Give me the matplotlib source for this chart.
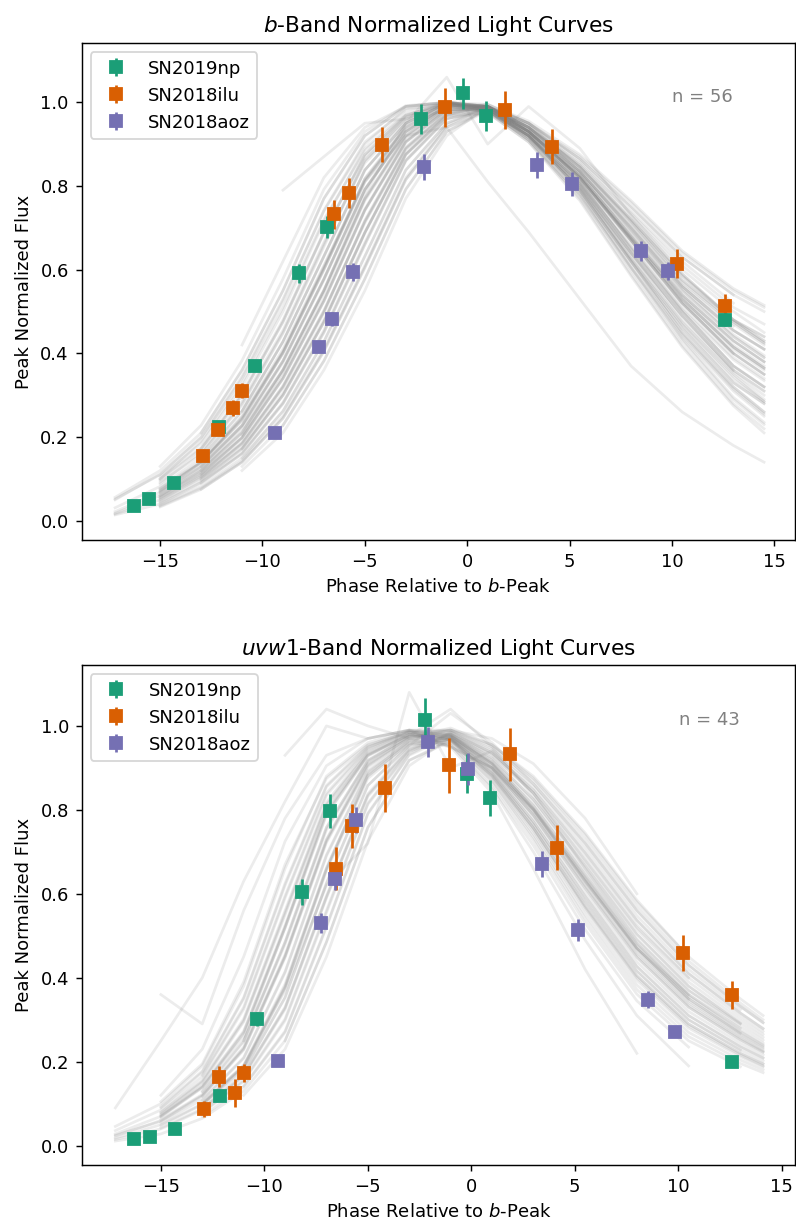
import numpy as np
import matplotlib
matplotlib.use('Agg')
import matplotlib.pyplot as plt

N = np.nan

# phases (days from b-band peak) of the three SNe
np_phase = [-16.3, -15.55, -14.3, -12.13, -10.36, -8.2, -6.83, -2.25, -0.22, 0.9, 12.61]
ilu_phase = [-12.93, -12.17, -11.42, -10.98, -6.53, -5.78, -4.18, -1.1, 1.86, 4.12, 10.23, 12.58]
aoz_b_phase = [-9.37, -7.25, -6.6, -5.59, -2.11, 3.41, 5.14, 8.51, 9.83]
aoz_u_phase = [-9.36, -7.24, -6.58, -5.58, -2.1, -0.17, 3.43, 5.15, 8.52, 9.85]

# b band
np_b_flux = [0.036, 0.051, 0.091, 0.225, 0.371, 0.591, 0.702, 0.960, 1.022, 0.968, 0.480]
np_b_err = [0.008, 0.008, 0.01, 0.012, 0.014, 0.022, 0.026, 0.035, 0.037, 0.036, 0.015]
ilu_b_flux = [0.154, 0.217, 0.269, 0.311, 0.732, 0.783, 0.899, 0.988, 0.981, 0.894, 0.614, 0.514]
ilu_b_err = [0.008, 0.01, 0.019, 0.018, 0.035, 0.036, 0.041, 0.047, 0.046, 0.041, 0.035, 0.028]
aoz_b_flux = [0.209, 0.415, 0.482, 0.595, 0.845, 0.850, 0.805, 0.645, 0.597]
aoz_b_err = [0.01, 0.012, 0.017, 0.021, 0.031, 0.031, 0.029, 0.024, 0.021]

# uvw1 band
np_u_flux = [0.016, 0.020, 0.040, 0.119, 0.302, 0.605, 0.797, 1.014, 0.886, 0.829, 0.200]
np_u_err = [0.006, 0.006, 0.008, 0.01, 0.017, 0.031, 0.041, 0.052, 0.046, 0.043, 0.008]
ilu_u_flux = [0.088, 0.164, 0.125, 0.173, 0.660, 0.762, 0.853, 0.906, 0.932, 0.710, 0.459, 0.359]
ilu_u_err = [0.019, 0.025, 0.034, 0.021, 0.052, 0.052, 0.057, 0.066, 0.063, 0.054, 0.044, 0.034]
aoz_u_flux = [0.202, 0.530, 0.635, 0.776, 0.962, 0.897, 0.670, 0.514, 0.348, 0.272]
aoz_u_err = [0.008, 0.024, 0.025, 0.030, 0.036, 0.038, 0.031, 0.026, 0.021, 0.010]

# comparison sample, sampled on a common phase grid
b_grid = [-17.2, -15, -13, -11, -9, -7, -5, -3, -1, 1, 3, 5.5, 8, 10.5, 13, 14.5]
b_curves = [
    [N, N, N, 0.42, 0.62, 0.82, 0.94, 0.99, 1.0, 0.99, 0.95, 0.87, 0.76, 0.64, 0.55, 0.51],
    [N, 0.13, 0.228, 0.383, 0.578, 0.792, 0.93, 0.992, 1.0, 0.99, 0.94, 0.835, 0.70, 0.56, 0.455, 0.41],
    [0.056, 0.12, 0.21, 0.36, 0.55, 0.77, 0.92, 0.99, 1.0, 0.985, 0.93, 0.82, 0.67, 0.52, 0.40, 0.35],
    [N, N, 0.21, 0.36, 0.55, 0.77, 0.92, 0.99, 1.0, 0.995, 0.95, 0.865, 0.75, 0.63, 0.54, N],
    [0.05, 0.112, 0.198, 0.34, 0.525, 0.742, 0.905, 0.982, 1.0, 0.985, 0.93, 0.81, 0.66, 0.51, 0.39, 0.34],
    [N, 0.105, 0.185, 0.32, 0.50, 0.715, 0.89, 0.975, 1.0, 0.98, 0.92, 0.79, 0.62, 0.46, 0.33, 0.28],
    [N, 0.10, 0.19, 0.33, 0.51, 0.72, 0.885, 0.97, 0.995, 0.99, 0.94, 0.84, 0.71, 0.57, 0.47, 0.42],
    [0.052, 0.11, 0.20, 0.345, 0.53, 0.74, 0.90, 0.985, 0.995, 0.98, 0.91, 0.77, 0.59, 0.42, 0.28, 0.22],
    [N, N, 0.172, 0.30, 0.475, 0.688, 0.875, 0.968, 1.0, 0.99, 0.93, 0.825, 0.68, 0.54, 0.43, 0.38],
    [N, N, 0.16, 0.28, 0.45, 0.66, 0.86, 0.96, 1.0, 0.985, 0.92, 0.81, 0.65, 0.50, 0.37, 0.32],
    [N, 0.088, 0.165, 0.285, 0.455, 0.665, 0.855, 0.955, 0.995, 0.99, 0.94, 0.845, 0.72, 0.585, 0.48, 0.44],
    [0.031, 0.082, 0.15, 0.262, 0.428, 0.632, 0.838, 0.95, 0.998, 0.98, 0.92, 0.80, 0.63, 0.475, 0.35, 0.29],
    [N, 0.097, 0.172, 0.30, 0.475, 0.688, 0.875, 0.968, 1.0, 0.99, 0.95, 0.86, 0.74, 0.62, 0.52, N],
    [N, N, 0.15, 0.262, 0.428, 0.632, 0.838, 0.95, 0.998, 0.99, 0.93, 0.82, 0.675, 0.53, 0.415, 0.365],
    [N, 0.092, 0.158, 0.276, 0.448, 0.655, 0.862, 0.962, 1.0, 0.99, 0.93, 0.83, 0.69, 0.55, 0.44, 0.39],
    [N, 0.10, 0.175, 0.305, 0.48, 0.69, 0.87, 0.965, 0.995, 0.98, 0.91, 0.78, 0.60, 0.43, 0.29, 0.23],
    [N, N, N, 0.262, 0.428, 0.632, 0.838, 0.95, 0.998, 0.98, 0.92, 0.79, 0.62, 0.45, 0.32, 0.26],
    [N, N, 0.14, 0.245, 0.405, 0.605, 0.815, 0.94, 0.995, 0.985, 0.93, 0.82, 0.67, 0.52, 0.40, 0.35],
    [N, 0.078, 0.142, 0.25, 0.41, 0.61, 0.812, 0.935, 0.99, 0.99, 0.94, 0.835, 0.70, 0.56, 0.455, 0.41],
    [0.022, 0.068, 0.13, 0.228, 0.382, 0.578, 0.792, 0.93, 0.992, 0.985, 0.92, 0.80, 0.64, 0.49, 0.36, 0.31],
    [N, 0.072, 0.138, 0.24, 0.40, 0.60, 0.818, 0.945, 1.0, 0.99, 0.94, 0.855, 0.735, 0.61, 0.51, 0.47],
    [N, N, 0.13, 0.228, 0.382, 0.578, 0.792, 0.93, 0.992, 0.975, 0.905, 0.765, 0.585, 0.415, 0.275, 0.21],
    [N, 0.076, 0.14, 0.248, 0.402, 0.602, 0.81, 0.942, 0.998, 0.99, 0.935, 0.825, 0.68, 0.535, 0.42, 0.37],
    [N, 0.068, 0.13, 0.228, 0.382, 0.578, 0.792, 0.93, 0.992, 0.99, 0.935, 0.835, 0.695, 0.555, 0.445, 0.395],
    [N, 0.074, 0.139, 0.243, 0.403, 0.607, 0.817, 0.938, 0.994, 0.985, 0.92, 0.80, 0.64, 0.49, 0.36, N],
    [N, 0.07, 0.14, 0.24, 0.40, 0.60, 0.81, 0.92, 0.94, 0.81, 0.69, 0.53, 0.37, 0.26, 0.18, 0.14],
    [0.018, 0.06, 0.12, 0.21, 0.36, 0.55, 0.77, 0.92, 0.99, 0.99, 0.93, 0.825, 0.68, 0.54, 0.43, 0.38],
    [N, 0.062, 0.122, 0.212, 0.362, 0.552, 0.768, 0.918, 0.988, 0.99, 0.945, 0.845, 0.715, 0.575, 0.475, 0.425],
    [N, N, 0.112, 0.198, 0.34, 0.525, 0.742, 0.905, 0.982, 0.985, 0.925, 0.805, 0.64, 0.48, 0.355, 0.30],
    [N, N, 0.12, 0.21, 0.36, 0.55, 0.77, 0.92, 0.99, 0.995, 0.955, 0.875, 0.765, 0.645, 0.555, 0.515],
    [N, 0.055, 0.112, 0.198, 0.34, 0.525, 0.742, 0.905, 0.982, 0.985, 0.915, 0.785, 0.605, 0.435, 0.295, 0.235],
    [N, N, N, 0.205, 0.355, 0.545, 0.765, 0.915, 0.985, 0.98, 0.925, 0.805, 0.655, 0.505, 0.385, 0.335],
    [N, 0.058, 0.115, 0.20, 0.345, 0.53, 0.745, 0.908, 0.985, 0.99, 0.935, 0.835, 0.705, 0.565, 0.465, N],
    [N, 0.06, 0.12, 0.22, 0.36, 0.55, 0.78, 0.95, 1.06, 0.90, 0.99, 0.89, 0.73, 0.59, 0.48, 0.43],
    [N, 0.066, 0.128, 0.225, 0.378, 0.575, 0.79, 0.928, 0.99, 0.978, 0.915, 0.795, 0.628, 0.468, 0.338, 0.285],
    [0.016, 0.05, 0.105, 0.185, 0.32, 0.50, 0.715, 0.89, 0.975, 0.99, 0.93, 0.82, 0.675, 0.53, 0.415, 0.365],
    [N, 0.052, 0.107, 0.188, 0.323, 0.503, 0.712, 0.887, 0.972, 0.99, 0.94, 0.845, 0.72, 0.585, 0.48, 0.44],
    [N, N, 0.097, 0.172, 0.30, 0.475, 0.688, 0.875, 0.968, 0.975, 0.915, 0.795, 0.625, 0.47, 0.345, 0.285],
    [N, 0.048, 0.103, 0.183, 0.318, 0.497, 0.718, 0.893, 0.978, 0.98, 0.91, 0.78, 0.61, 0.44, 0.31, 0.25],
    [N, N, N, 0.172, 0.30, 0.475, 0.688, 0.875, 0.968, 0.985, 0.93, 0.82, 0.67, 0.52, 0.40, N],
    [N, N, 0.105, 0.185, 0.32, 0.50, 0.715, 0.89, 0.975, 0.995, 0.95, 0.865, 0.75, 0.63, 0.54, 0.50],
    [N, 0.045, 0.097, 0.172, 0.30, 0.475, 0.688, 0.875, 0.968, 0.99, 0.94, 0.85, 0.73, 0.60, 0.50, 0.45],
    [N, 0.055, 0.112, 0.198, 0.34, 0.525, 0.742, 0.905, 0.982, 0.985, 0.92, 0.81, 0.65, 0.50, 0.37, 0.32],
    [0.014, 0.04, 0.09, 0.16, 0.28, 0.45, 0.66, 0.86, 0.96, 0.985, 0.925, 0.815, 0.67, 0.525, 0.41, 0.36],
    [N, N, 0.09, 0.16, 0.28, 0.45, 0.66, 0.86, 0.96, 0.985, 0.945, 0.845, 0.715, 0.575, 0.475, 0.425],
    [N, 0.042, 0.092, 0.163, 0.283, 0.455, 0.665, 0.862, 0.962, 0.975, 0.905, 0.775, 0.605, 0.445, 0.315, 0.255],
    [N, 0.037, 0.082, 0.15, 0.262, 0.428, 0.632, 0.838, 0.95, 0.985, 0.92, 0.80, 0.64, 0.49, 0.36, 0.31],
    [N, N, N, 0.15, 0.262, 0.428, 0.632, 0.838, 0.95, 0.99, 0.93, 0.825, 0.68, 0.54, 0.43, 0.38],
    [N, N, 0.10, 0.175, 0.305, 0.48, 0.69, 0.878, 0.97, 0.99, 0.93, 0.83, 0.69, 0.55, 0.44, 0.39],
    [N, N, 0.075, 0.14, 0.245, 0.405, 0.605, 0.815, 0.94, 0.985, 0.93, 0.82, 0.67, 0.52, 0.40, 0.35],
    [N, 0.033, 0.075, 0.14, 0.245, 0.405, 0.605, 0.815, 0.94, 0.98, 0.92, 0.79, 0.62, 0.46, 0.33, 0.28],
    [N, N, N, 0.13, 0.228, 0.382, 0.578, 0.792, 0.93, 0.98, 0.92, 0.79, 0.62, 0.45, 0.32, 0.26],
    [N, 0.035, 0.078, 0.143, 0.25, 0.41, 0.61, 0.82, 0.945, 0.99, 0.94, 0.835, 0.70, 0.56, 0.455, 0.41],
    [N, N, N, 0.12, 0.21, 0.36, 0.55, 0.77, 0.92, 0.99, 0.93, 0.82, 0.675, 0.53, 0.415, 0.365],
    [N, N, N, N, 0.228, 0.382, 0.578, 0.792, 0.93, 0.985, 0.92, 0.81, 0.65, 0.50, 0.37, 0.32],
    [N, N, N, N, 0.79, 0.87, 0.95, 0.96, 0.98, 0.99, 0.95, 0.85, 0.72, 0.59, 0.48, 0.43],
]

u_grid = [-17.2, -15, -13, -11, -9, -7, -5, -3, -1, 1, 3, 5.5, 8, 10.5, 13, 14.1]
u_curves = [
    [0.09, 0.25, 0.40, 0.63, 0.82, 1.0, 0.97, 0.99, 0.95, 0.90, 0.80, 0.63, 0.47, 0.35, N, N],
    [N, 0.36, 0.29, 0.56, 0.78, 0.93, 0.97, 0.99, 0.98, 0.93, 0.84, 0.68, 0.52, 0.40, N, N],
    [N, 0.12, 0.23, 0.45, 0.725, 0.905, 0.97, 0.99, 0.99, 0.95, 0.87, 0.73, 0.57, 0.44, 0.34, 0.30],
    [N, N, N, N, 0.93, 1.04, 1.0, 0.97, 0.95, 0.90, 0.80, 0.63, 0.47, 0.36, 0.28, N],
    [0.046, 0.10, 0.19, 0.38, 0.66, 0.88, 0.96, 0.99, 0.975, 0.905, 0.795, 0.625, 0.46, 0.34, 0.26, 0.23],
    [N, 0.105, 0.195, 0.39, 0.67, 0.875, 0.955, 0.985, 0.966, 0.878, 0.75, 0.562, 0.394, 0.28, 0.212, 0.188],
    [N, 0.093, 0.178, 0.353, 0.625, 0.858, 0.953, 0.988, 0.987, 0.941, 0.855, 0.709, 0.548, 0.42, 0.324, N],
    [0.036, 0.085, 0.165, 0.325, 0.59, 0.835, 0.945, 0.985, 0.978, 0.914, 0.81, 0.646, 0.482, 0.36, 0.276, 0.244],
    [N, N, 0.168, 0.33, 0.595, 0.84, 0.948, 0.988, 0.969, 0.887, 0.765, 0.583, 0.416, 0.30, 0.228, N],
    [N, 0.078, 0.153, 0.298, 0.555, 0.813, 0.938, 0.983, 0.99, 0.945, 0.862, 0.72, 0.56, 0.43, 0.332, 0.293],
    [N, 0.09, 0.175, 0.35, 0.62, 0.855, 0.95, 0.985, 0.955, 0.855, 0.715, 0.515, 0.345, 0.235, N, N],
    [N, 0.08, 0.156, 0.302, 0.56, 0.818, 0.942, 0.985, 0.98, 0.918, 0.818, 0.656, 0.493, 0.37, 0.284, 0.251],
    [0.028, 0.07, 0.14, 0.27, 0.52, 0.79, 0.93, 0.98, 0.972, 0.90, 0.79, 0.62, 0.455, 0.335, 0.257, 0.226],
    [N, 0.072, 0.143, 0.273, 0.525, 0.795, 0.932, 0.978, 0.967, 0.882, 0.757, 0.572, 0.405, 0.29, 0.22, 0.195],
    [N, N, 0.13, 0.25, 0.485, 0.758, 0.918, 0.975, 0.985, 0.936, 0.847, 0.698, 0.537, 0.41, 0.316, 0.279],
    [N, 0.068, 0.138, 0.268, 0.518, 0.788, 0.928, 0.978, 0.976, 0.91, 0.802, 0.636, 0.471, 0.35, 0.268, N],
    [N, 0.07, 0.14, 0.26, 0.52, 0.80, 0.93, 0.98, 0.95, 0.84, 0.66, 0.42, 0.22, N, N, N],
    [N, N, N, 0.25, 0.485, 0.758, 0.918, 0.975, 0.97, 0.891, 0.772, 0.594, 0.427, 0.31, 0.236, 0.209],
    [N, 0.075, 0.15, 0.295, 0.55, 0.81, 0.935, 0.98, 0.973, 0.90, 0.787, 0.614, 0.449, 0.33, 0.252, 0.223],
    [0.023, 0.06, 0.12, 0.23, 0.45, 0.725, 0.905, 0.97, 0.981, 0.923, 0.825, 0.667, 0.504, 0.38, 0.292, 0.258],
    [N, 0.062, 0.122, 0.235, 0.455, 0.73, 0.91, 0.972, 0.995, 0.955, 0.875, 0.74, 0.58, 0.45, 0.35, 0.31],
    [N, 0.055, 0.11, 0.21, 0.415, 0.693, 0.893, 0.965, 0.965, 0.873, 0.742, 0.551, 0.383, 0.27, 0.204, 0.181],
    [N, N, 0.118, 0.228, 0.448, 0.722, 0.902, 0.968, 0.978, 0.914, 0.81, 0.646, 0.482, 0.36, N, N],
    [0.025, 0.058, 0.118, 0.232, 0.452, 0.728, 0.908, 0.972, 0.99, 0.97, 0.91, 0.78, 0.60, N, N, N],
    [N, N, 0.108, 0.208, 0.412, 0.69, 0.89, 0.962, 0.96, 0.864, 0.727, 0.53, 0.361, 0.25, 0.188, N],
    [N, N, 0.128, 0.248, 0.48, 0.752, 0.915, 0.976, 1.04, 0.95, 0.832, 0.677, 0.515, 0.39, 0.30, 0.265],
    [0.018, 0.05, 0.10, 0.19, 0.38, 0.66, 0.88, 0.96, 0.972, 0.896, 0.78, 0.604, 0.438, 0.32, 0.244, 0.216],
    [N, N, 0.093, 0.178, 0.353, 0.625, 0.858, 0.953, 1.03, 0.96, 0.862, 0.72, 0.56, 0.43, 0.332, 0.293],
    [N, 0.048, 0.098, 0.185, 0.375, 0.655, 0.875, 0.955, 0.968, 0.88, 0.755, 0.567, 0.40, 0.285, 0.216, 0.19],
    [N, N, 0.10, 0.19, 0.37, 0.62, 0.72, 1.08, 0.90, 0.94, 0.84, 0.66, 0.49, 0.37, 0.29, N],
    [N, N, N, 0.178, 0.353, 0.625, 0.858, 0.953, 0.975, 0.91, 0.805, 0.64, 0.478, 0.356, 0.272, 0.24],
    [N, N, 0.102, 0.192, 0.385, 0.662, 0.882, 0.958, 0.955, 0.85, 0.70, 0.49, 0.31, 0.19, N, N],
    [N, N, 0.098, 0.188, 0.378, 0.658, 0.885, 0.965, 0.99, 0.955, 0.88, 0.745, 0.585, 0.45, N, N],
    [0.015, 0.04, 0.085, 0.165, 0.325, 0.59, 0.835, 0.945, 0.978, 0.908, 0.80, 0.632, 0.466, 0.345, 0.265, 0.234],
    [N, N, 0.087, 0.168, 0.33, 0.595, 0.838, 0.948, 0.969, 0.887, 0.765, 0.583, 0.416, 0.30, 0.228, 0.202],
    [N, N, 0.078, 0.153, 0.298, 0.555, 0.813, 0.938, 0.985, 0.936, 0.847, 0.698, 0.537, 0.41, 0.316, 0.279],
    [N, 0.042, 0.088, 0.168, 0.328, 0.592, 0.832, 0.942, 0.981, 0.923, 0.825, 0.667, 0.504, 0.38, 0.292, N],
    [N, N, 0.08, 0.156, 0.302, 0.56, 0.816, 0.94, 0.97, 0.891, 0.772, 0.594, 0.427, 0.31, 0.236, 0.209],
    [N, N, 0.07, 0.14, 0.27, 0.52, 0.79, 0.93, 0.976, 0.91, 0.802, 0.636, 0.471, 0.35, 0.268, 0.237],
    [N, N, N, 0.142, 0.273, 0.523, 0.792, 0.932, 0.984, 0.932, 0.84, 0.688, 0.526, 0.40, 0.308, 0.272],
    [0.011, 0.028, 0.065, 0.13, 0.25, 0.485, 0.758, 0.918, 0.963, 0.869, 0.735, 0.541, 0.372, 0.26, 0.196, 0.174],
    [N, N, N, 0.12, 0.23, 0.45, 0.725, 0.905, 0.973, 0.90, 0.787, 0.614, 0.449, 0.33, 0.252, 0.223],
    [N, N, N, N, 0.25, 0.485, 0.758, 0.918, 0.967, 0.882, 0.757, 0.572, 0.405, 0.29, 0.22, 0.195],
]

names = ['SN2019np', 'SN2018ilu', 'SN2018aoz']
colors = ['#1b9e77', '#d95f02', '#7570b3']


def draw_panel(ax, grid, curves, points, title, xlim, ylim):
    for row in curves:
        ax.plot(grid, row, color='gray', alpha=0.15, lw=1.5)
    for name, color, (phase, flux, err) in zip(names, colors, points):
        ax.errorbar(phase, flux, yerr=err, fmt='s', color=color, ms=7,
                    elinewidth=1.5, label=name)
    ax.text(11.5, 1.013, 'n = %d' % len(curves), color='gray',
            ha='center', va='center', fontsize=10)
    ax.set_xlim(*xlim)
    ax.set_ylim(*ylim)
    ax.set_title(title, fontsize=12)
    ax.set_xlabel('Phase Relative to $b$-Peak')
    ax.set_ylabel('Peak Normalized Flux')
    ax.legend(loc='upper left')


fig = plt.figure(figsize=(796 / 130, 1219 / 130), dpi=130)
ax1 = fig.add_axes([0.1024, 0.5570, 0.8963, 0.4075])
ax2 = fig.add_axes([0.1028, 0.0443, 0.8959, 0.4098])

draw_panel(ax1, b_grid, b_curves,
           [(np_phase, np_b_flux, np_b_err),
            (ilu_phase, ilu_b_flux, ilu_b_err),
            (aoz_b_phase, aoz_b_flux, aoz_b_err)],
           '$b$-Band Normalized Light Curves', (-18.84, 16.01), (-0.046, 1.141))
draw_panel(ax2, u_grid, u_curves,
           [(np_phase, np_u_flux, np_u_err),
            (ilu_phase, ilu_u_flux, ilu_u_err),
            (aoz_u_phase, aoz_u_flux, aoz_u_err)],
           '$uvw1$-Band Normalized Light Curves', (-18.82, 15.64), (-0.046, 1.144))

fig.savefig('out.png', dpi=130)
